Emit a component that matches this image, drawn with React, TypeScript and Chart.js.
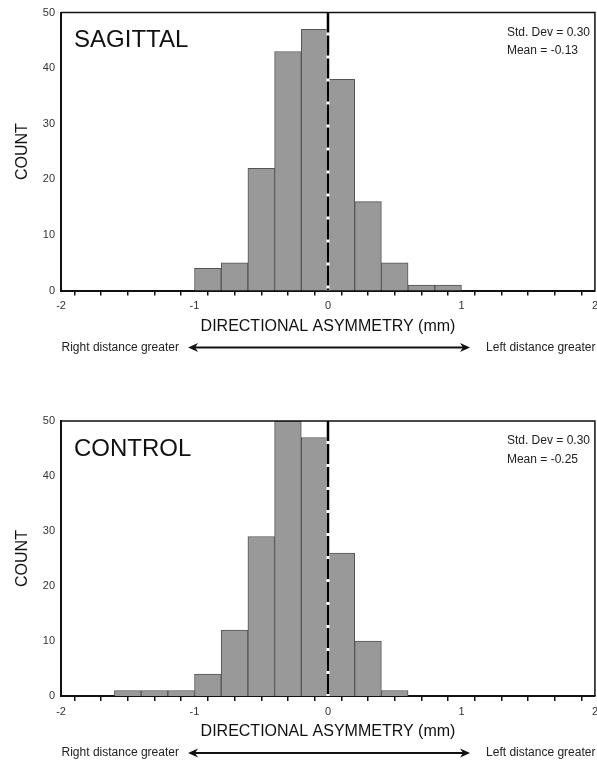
import React, { useEffect, useRef } from "react";
import { Chart, registerables } from "chart.js";

Chart.register(...registerables);

// ---------- data ----------
const sagittalBinCenters = [-0.9, -0.7, -0.5, -0.3, -0.1, 0.1, 0.3, 0.5, 0.7, 0.9];
const sagittalCounts = [4, 5, 22, 43, 47, 38, 16, 5, 1, 1];
const sagittalStats = ["Std. Dev = 0.30", "Mean = -0.13"];

const controlBinCenters = [-1.5, -1.3, -1.1, -0.9, -0.7, -0.5, -0.3, -0.1, 0.1, 0.3, 0.5];
const controlCounts = [1, 1, 1, 4, 12, 29, 50, 47, 26, 10, 1];
const controlStats = ["Std. Dev = 0.30", "Mean = -0.25"];

const xMin = -2;
const xMax = 2;
const xStep = 0.2;
const xTickLabels = [-2, -1, 0, 1, 2];
const yMin = 0;
const yMax = 50;
const yStep = 10;
const referenceValue = 0;

const xAxisTitle = "DIRECTIONAL ASYMMETRY (mm)";
const yAxisTitle = "COUNT";
const leftNote = "Right distance greater";
const rightNote = "Left distance greater";

const FONT = "'Liberation Sans', Arial, Helvetica, sans-serif";

type PanelProps = {
  label: string;
  centers: number[];
  counts: number[];
  stats: string[];
  top: number;
  height: number;
  padTop: number;
  padBottom: number;
};

function drawArrow(ctx: CanvasRenderingContext2D, x1: number, x2: number, y: number) {
  ctx.save();
  ctx.strokeStyle = "#111";
  ctx.fillStyle = "#111";
  ctx.lineWidth = 2;
  ctx.beginPath();
  ctx.moveTo(x1 + 4, y);
  ctx.lineTo(x2 - 4, y);
  ctx.stroke();
  const head = (tip: number, dir: number) => {
    ctx.beginPath();
    ctx.moveTo(tip, y);
    ctx.lineTo(tip - dir * 10, y - 4.5);
    ctx.lineTo(tip - dir * 7, y);
    ctx.lineTo(tip - dir * 10, y + 4.5);
    ctx.closePath();
    ctx.fill();
  };
  head(x1, -1);
  head(x2, 1);
  ctx.restore();
}

function HistogramPanel(props: PanelProps) {
  const ref = useRef<HTMLCanvasElement | null>(null);
  useEffect(() => {
    if (!ref.current) return;
    const { label, centers, counts, stats } = props;
    const overlay = {
      id: "overlay",
      afterDatasetsDraw(chart: any) {
        const { ctx, chartArea: a, scales } = chart;
        const x0 = scales.x.getPixelForValue(referenceValue);
        ctx.save();
        ctx.strokeStyle = "#ffffff";
        ctx.lineWidth = 3;
        ctx.beginPath();
        ctx.moveTo(x0, a.top);
        ctx.lineTo(x0, a.bottom);
        ctx.stroke();
        ctx.strokeStyle = "#000000";
        ctx.lineWidth = 2.5;
        ctx.setLineDash([20, 3]);
        ctx.beginPath();
        ctx.moveTo(x0, a.top);
        ctx.lineTo(x0, a.bottom);
        ctx.stroke();
        ctx.restore();
      },
      afterDraw(chart: any) {
        const { ctx, chartArea: a } = chart;
        ctx.save();
        ctx.strokeStyle = "#111";
        ctx.lineWidth = 1.5;
        ctx.beginPath();
        ctx.moveTo(a.left, a.top);
        ctx.lineTo(a.right, a.top);
        ctx.lineTo(a.right, a.bottom);
        ctx.stroke();
        ctx.fillStyle = "#111";
        ctx.textAlign = "left";
        ctx.textBaseline = "middle";
        ctx.font = `24px ${FONT}`;
        ctx.fillText(label, a.left + 13, a.top + 28);
        ctx.font = `12px ${FONT}`;
        ctx.fillStyle = "#222";
        ctx.fillText(stats[0], a.right - 88, a.top + 20);
        ctx.fillText(stats[1], a.right - 88, a.top + 38.5);
        const y = a.bottom + 57;
        ctx.fillText(leftNote, a.left + 0.5, y);
        ctx.fillText(rightNote, a.left + 425, y);
        ctx.restore();
        drawArrow(ctx, a.left + 127, a.left + 409, y);
      },
    };

    const chart = new Chart(ref.current, {
      type: "bar",
      data: {
        datasets: [
          {
            data: centers.map((c, i) => ({ x: c, y: counts[i] })),
            backgroundColor: "#999999",
            borderColor: "#555555",
            borderWidth: 1,
            barPercentage: 1,
            categoryPercentage: 1,
          },
        ],
      },
      options: {
        animation: false,
        responsive: false,
        devicePixelRatio: 1,
        events: [],
        layout: { padding: { top: props.padTop, bottom: props.padBottom, left: 0, right: 0 } },
        plugins: { legend: { display: false }, tooltip: { enabled: false } },
        scales: {
          x: {
            type: "linear",
            min: xMin,
            max: xMax,
            offset: false,
            grid: {
              display: true,
              drawOnChartArea: false,
              drawTicks: true,
              tickLength: 5,
              color: "#111",
              lineWidth: 1.5,
            },
            border: { display: true, color: "#111", width: 2 },
            ticks: {
              stepSize: xStep,
              autoSkip: false,
              maxRotation: 0,
              padding: 4,
              color: "#333",
              font: { size: 11, family: FONT },
              callback: (v: any) => {
                const n = Number(v);
                const hit = xTickLabels.find((t) => Math.abs(t - n) < 1e-6);
                return hit === undefined ? "" : String(hit);
              },
            },
            title: {
              display: true,
              text: xAxisTitle,
              color: "#111",
              font: { size: 16, family: FONT },
              padding: { top: 0, bottom: 0 },
            },
          },
          y: {
            min: yMin,
            max: yMax,
            grid: { display: false, drawTicks: false },
            border: { display: true, color: "#111", width: 2 },
            ticks: {
              stepSize: yStep,
              padding: 6,
              color: "#333",
              font: { size: 11, family: FONT },
            },
            title: {
              display: true,
              text: yAxisTitle,
              color: "#111",
              font: { size: 16, family: FONT },
              padding: { top: 13.4, bottom: 4.2 },
            },
          },
        },
      },
      plugins: [overlay],
    } as any);
    return () => chart.destroy();
  }, []);
  return (
    <canvas
      ref={ref}
      width={602}
      height={props.height}
      style={{ position: "absolute", left: 0, top: props.top, display: "block" }}
    />
  );
}

export default function App() {
  return (
    <div
      style={{
        position: "absolute",
        left: 0,
        top: 0,
        width: 597,
        height: 762,
        overflow: "hidden",
        background: "#fff",
      }}
    >
      <HistogramPanel
        label="SAGITTAL"
        centers={sagittalBinCenters}
        counts={sagittalCounts}
        stats={sagittalStats}
        top={0}
        height={365}
        padTop={10}
        padBottom={29}
      />
      <HistogramPanel
        label="CONTROL"
        centers={controlBinCenters}
        counts={controlCounts}
        stats={controlStats}
        top={400}
        height={362}
        padTop={21}
        padBottom={20.6}
      />
    </div>
  );
}
